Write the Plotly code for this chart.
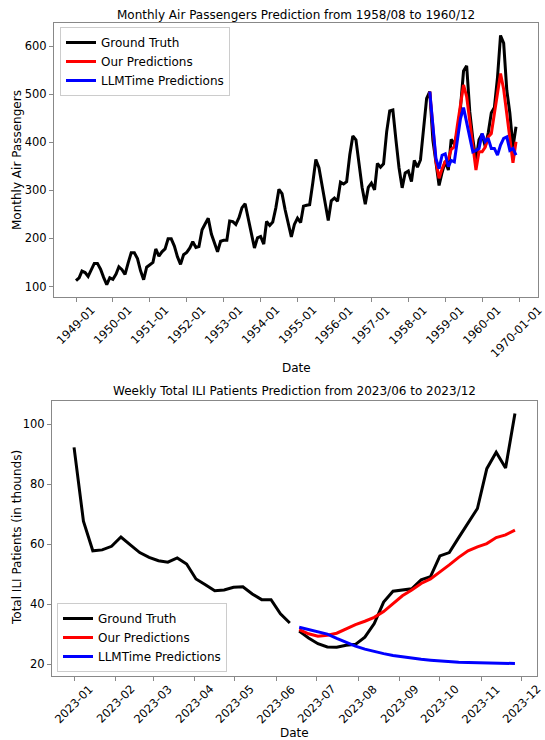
import plotly.graph_objects as go
import pandas as pd

# ---------------- Data: Air passengers ----------------
air_start = "1949-01-01"
air_passengers = [
    112, 118, 132, 129, 121, 135, 148, 148, 136, 119, 104, 118,
    115, 126, 141, 135, 125, 149, 170, 170, 158, 133, 114, 140,
    145, 150, 178, 163, 172, 178, 199, 199, 184, 162, 146, 166,
    171, 180, 193, 181, 183, 218, 230, 242, 209, 191, 172, 194,
    196, 196, 236, 235, 229, 243, 264, 272, 237, 211, 180, 201,
    204, 188, 235, 227, 234, 264, 302, 293, 259, 229, 203, 229,
    242, 233, 267, 269, 270, 315, 364, 347, 312, 274, 237, 278,
    284, 277, 317, 313, 318, 374, 413, 405, 355, 306, 271, 306,
    315, 301, 356, 348, 355, 422, 465, 467, 404, 347, 305, 336,
    340, 318, 362, 348, 363, 435, 491, 505, 404, 359, 310, 337,
    360, 342, 406, 396, 420, 472, 548, 559, 463, 407, 362, 405,
    417, 391, 419, 461, 472, 535, 622, 606, 508, 461, 390, 432,
]
air_pred_start = "1958-08-01"
air_our_pred = [505, 425, 360, 325, 345, 360, 365, 385, 390, 435, 480, 519, 495, 440, 395,
                342, 380, 380, 390, 411, 418, 460, 501, 543, 510, 460, 400, 357, 401]
air_llm_pred = [505, 425, 366, 345, 373, 376, 349, 362, 359, 404, 449, 472, 439, 404, 380,
                383, 387, 418, 401, 408, 387, 387, 373, 394, 408, 411, 383, 387, 373]
air_tick_text = [f"{y}-01" for y in range(1949, 1961)] + ["1970-01-01"]

# ---------------- Data: ILI weekly ----------------
ili_hist_start = "2023-01-01"
ili_hist = [92.3, 67.7, 57.8, 58.1, 59.3, 62.4, 59.8, 57.2, 55.6, 54.5, 54.0, 55.4,
            53.4, 48.4, 46.5, 44.5, 44.7, 45.6, 45.8, 43.4, 41.5, 41.5, 36.8, 33.7]
ili_future_start = "2023-06-18"
ili_truth = [31.0, 28.7, 26.8, 25.7, 25.6, 26.3, 26.6, 29.0, 33.5, 40.7, 44.3, 44.6,
             45.1, 48.1, 49.2, 56.1, 57.2, 62.2, 67.2, 71.9, 85.2, 90.7, 85.4, 103.6]
ili_our_pred = [31.5, 30.1, 29.3, 29.6, 30.3, 31.8, 33.2, 34.3, 35.6, 37.5, 40.2, 42.8,
                44.7, 46.9, 48.4, 50.6, 53.1, 55.6, 57.8, 59.1, 60.2, 62.2, 63.1, 64.7]
ili_llm_pred = [32.3, 31.5, 30.8, 30.0, 28.6, 27.2, 26.0, 25.0, 24.2, 23.5, 22.9, 22.4,
                22.0, 21.6, 21.3, 21.0, 20.8, 20.6, 20.5, 20.4, 20.3, 20.25, 20.2, 20.2]
ili_tick_text = [f"2023-{m:02d}" for m in range(1, 13)]

# ---------------- Build dates ----------------
air_dates = pd.date_range(air_start, periods=len(air_passengers), freq="MS")
air_pred_dates = pd.date_range(air_pred_start, periods=len(air_our_pred), freq="MS")
air_ticks = pd.date_range("1949-01-01", periods=len(air_tick_text), freq="YS")

ili_hist_dates = pd.date_range(ili_hist_start, periods=len(ili_hist), freq="7D")
ili_future_dates = pd.date_range(ili_future_start, periods=len(ili_truth), freq="7D")
ili_ticks = pd.date_range("2023-01-01", periods=len(ili_tick_text), freq="MS")

FONT = "DejaVu Sans"
LW = 3
TICK_FS = 11.5

fig = go.Figure()

# Top chart
fig.add_trace(go.Scatter(x=air_dates, y=air_passengers, mode="lines", name="Ground Truth",
                         line=dict(color="black", width=LW), xaxis="x", yaxis="y", legend="legend"))
fig.add_trace(go.Scatter(x=air_pred_dates, y=air_our_pred, mode="lines", name="Our Predictions",
                         line=dict(color="red", width=LW), xaxis="x", yaxis="y", legend="legend"))
fig.add_trace(go.Scatter(x=air_pred_dates, y=air_llm_pred, mode="lines", name="LLMTime Predictions",
                         line=dict(color="blue", width=LW), xaxis="x", yaxis="y", legend="legend"))

# Bottom chart
gt_x = list(ili_hist_dates) + [None] + list(ili_future_dates)
gt_y = ili_hist + [None] + ili_truth
fig.add_trace(go.Scatter(x=gt_x, y=gt_y, mode="lines", name="Ground Truth", connectgaps=False,
                         line=dict(color="black", width=LW), xaxis="x2", yaxis="y2", legend="legend2"))
fig.add_trace(go.Scatter(x=ili_future_dates, y=ili_our_pred, mode="lines", name="Our Predictions",
                         line=dict(color="red", width=LW), xaxis="x2", yaxis="y2", legend="legend2"))
fig.add_trace(go.Scatter(x=ili_future_dates, y=ili_llm_pred, mode="lines", name="LLMTime Predictions",
                         line=dict(color="blue", width=LW), xaxis="x2", yaxis="y2", legend="legend2"))

# Ranges (matplotlib-like 5% margins)
def pad_dates(d0, d1, frac=0.05):
    span = d1 - d0
    return [str(d0 - span * frac), str(d1 + span * frac)]

def pad_vals(vals, frac=0.05):
    lo, hi = min(vals), max(vals)
    s = hi - lo
    return [lo - s * frac, hi + s * frac]

air_xr = pad_dates(air_dates[0], air_dates[-1])
air_yr = pad_vals(air_passengers + air_our_pred + air_llm_pred)
ili_xr = pad_dates(ili_hist_dates[0], ili_future_dates[-1])
ili_yr = pad_vals(ili_hist + ili_truth + ili_our_pred + ili_llm_pred)

ML, MR, MT, MB = 52, 7, 23, 64
W, H = 545, 740
PW, PH = W - ML - MR, H - MT - MB

def px2x(px):
    return (px - ML) / PW

def px2y(py):
    return 1 - (py - MT) / PH

axis_style = dict(showline=True, mirror=True, linecolor="#888888", linewidth=1,
                  ticks="outside", ticklen=4, tickcolor="#888888", tickwidth=1,
                  showgrid=False, zeroline=False, automargin=False,
                  tickfont=dict(family=FONT, size=TICK_FS, color="black"))

fig.update_layout(
    template="none",
    width=W, height=H,
    margin=dict(l=ML, r=MR, t=MT, b=MB, autoexpand=False),
    paper_bgcolor="white", plot_bgcolor="white",
    font=dict(family=FONT, size=12, color="black"),
    xaxis=dict(domain=[px2x(54), px2x(538)], anchor="y", type="date", range=air_xr,
               tickvals=list(air_ticks), showticklabels=False, **axis_style),
    yaxis=dict(domain=[px2y(297), px2y(23)], anchor="x", range=air_yr,
               tickvals=[100, 200, 300, 400, 500, 600], **axis_style),
    xaxis2=dict(domain=[px2x(52), px2x(537)], anchor="y2", type="date", range=ili_xr,
                tickvals=list(ili_ticks), showticklabels=False, **axis_style),
    yaxis2=dict(domain=[px2y(676), px2y(401)], anchor="x2", range=ili_yr,
                tickvals=[20, 40, 60, 80, 100], **axis_style),
    legend=dict(x=px2x(60), y=px2y(27), xanchor="left", yanchor="top",
                bgcolor="white", bordercolor="#cccccc", borderwidth=1,
                font=dict(family=FONT, size=12, color="black"), tracegroupgap=0),
    legend2=dict(x=px2x(57), y=px2y(672), xanchor="left", yanchor="bottom",
                 bgcolor="white", bordercolor="#cccccc", borderwidth=1,
                 font=dict(family=FONT, size=12, color="black"), tracegroupgap=0),
    showlegend=True,
)

def ann(text, px, py, angle=0, size=12):
    fig.add_annotation(text=text, xref="paper", yref="paper", x=px2x(px), y=px2y(py),
                       xanchor="center", yanchor="middle", showarrow=False, textangle=angle,
                       font=dict(family=FONT, size=size, color="black"))

# Rotated x tick labels centred under their ticks (matplotlib style)
def tick_labels(xref, vals, texts, top_px, last_shift=0):
    n = len(texts)
    for i, (v, t) in enumerate(zip(vals, texts)):
        fig.add_annotation(text=t, xref=xref, yref="paper", x=str(v), y=px2y(top_px),
                           xanchor="center", yanchor="top", showarrow=False, textangle=-45,
                           borderpad=0, xshift=(last_shift if i == n - 1 else 0),
                           font=dict(family=FONT, size=TICK_FS, color="black"))

tick_labels("x", air_ticks, air_tick_text, 302, last_shift=-3)
tick_labels("x2", ili_ticks, ili_tick_text, 681)

ann("Monthly Air Passengers Prediction from 1958/08 to 1960/12", 296, 15, size=12)
ann("Weekly Total ILI Patients Prediction from 2023/06 to 2023/12", 294.5, 391, size=12)
ann("Date", 296, 368)
ann("Date", 294.5, 733)
ann("Monthly Air Passengers", 17, 160, angle=-90)
ann("Total ILI Patients (in thounds)", 17, 538, angle=-90)

fig.write_html("out.html", config={"displayModeBar": False},
               post_script="document.body.style.margin='0px';document.body.style.overflow='hidden';")
